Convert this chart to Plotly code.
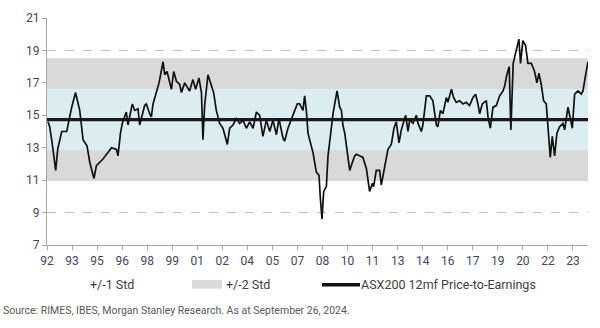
import plotly.graph_objects as go

# ---------------- data ----------------
years = [
    1992.06, 1992.16, 1992.28, 1992.52, 1992.64, 1992.88, 1993.18, 1993.48, 1993.71, 1993.96,
    1994.16, 1994.40, 1994.56, 1994.81, 1994.96, 1995.16, 1995.35, 1995.65, 1995.86, 1996.16,
    1996.25, 1996.40, 1996.51, 1996.75, 1996.85, 1997.11, 1997.25, 1997.45, 1997.55, 1997.85,
    1997.95, 1998.15, 1998.25, 1998.35, 1998.55, 1998.71, 1998.95, 1999.05, 1999.19, 1999.35,
    1999.45, 1999.59, 1999.75, 1999.95, 2000.05, 2000.25, 2000.44, 2000.54, 2000.74, 2000.90,
    2001.10, 2001.25, 2001.34, 2001.44, 2001.64, 2001.84, 2001.98, 2002.14, 2002.34, 2002.54,
    2002.80, 2002.94, 2003.14, 2003.34, 2003.54, 2003.74, 2003.94, 2004.14, 2004.34, 2004.54,
    2004.74, 2004.93, 2005.14, 2005.34, 2005.53, 2005.74, 2005.89, 2006.13, 2006.23, 2006.43,
    2006.73, 2006.99, 2007.13, 2007.33, 2007.43, 2007.53, 2007.63, 2007.83, 2007.93, 2008.13,
    2008.29, 2008.37, 2008.47, 2008.57, 2008.73, 2008.83, 2009.03, 2009.13, 2009.37, 2009.53,
    2009.63, 2009.72, 2009.83, 2010.02, 2010.13, 2010.29, 2010.43, 2010.53, 2010.72, 2010.92,
    2011.13, 2011.32, 2011.49, 2011.56, 2011.72, 2011.92, 2012.02, 2012.22, 2012.42, 2012.62,
    2012.78, 2012.92, 2013.08, 2013.22, 2013.48, 2013.62, 2013.72, 2013.92, 2014.12, 2014.22,
    2014.32, 2014.42, 2014.51, 2014.72, 2014.92, 2015.11, 2015.22, 2015.32, 2015.41, 2015.56,
    2015.71, 2015.92, 2016.01, 2016.22, 2016.35, 2016.51, 2016.71, 2016.91, 2017.11, 2017.31,
    2017.51, 2017.67, 2017.81, 2017.91, 2018.07, 2018.31, 2018.41, 2018.55, 2018.71, 2018.91,
    2019.11, 2019.31, 2019.41, 2019.54, 2019.68, 2019.78, 2019.92, 2020.11, 2020.26, 2020.36,
    2020.50, 2020.66, 2020.80, 2021.01, 2021.20, 2021.34, 2021.46, 2021.60, 2021.74, 2021.90,
    2022.00, 2022.14, 2022.26, 2022.40, 2022.54, 2022.70, 2022.90, 2023.00, 2023.20, 2023.34,
    2023.46, 2023.60, 2023.80, 2024.00, 2024.10, 2024.26, 2024.40,
]
pe = [
    14.6, 14.3, 13.5, 11.6, 12.9, 14.0, 14.0, 15.5, 16.4, 15.3,
    13.5, 13.1, 12.1, 11.1, 11.9, 12.1, 12.3, 12.7, 13.0, 12.9,
    12.5, 13.9, 14.5, 15.2, 14.4, 15.7, 15.3, 15.4, 14.4, 15.6,
    15.7, 15.1, 14.9, 15.7, 16.5, 17.0, 18.3, 17.5, 17.7, 17.0,
    16.6, 17.7, 17.1, 16.9, 16.4, 17.0, 16.7, 16.5, 17.2, 16.6,
    17.3, 16.4, 13.5, 15.6, 17.5, 16.9, 16.4, 15.3, 14.5, 14.2,
    13.2, 14.2, 14.4, 14.8, 14.5, 14.7, 14.2, 14.6, 14.2, 15.2,
    15.0, 13.7, 14.7, 14.0, 14.7, 13.8, 14.8, 13.6, 13.4, 14.2,
    15.0, 15.7, 15.7, 15.3, 16.2, 15.3, 13.9, 13.1, 12.7, 11.5,
    11.3, 9.9, 8.6, 10.3, 10.6, 12.5, 14.2, 15.1, 16.5, 15.5,
    15.3, 14.4, 13.9, 12.3, 11.6, 12.1, 12.5, 12.6, 12.5, 12.4,
    11.7, 10.3, 10.8, 10.6, 11.6, 11.6, 10.7, 11.9, 12.9, 13.2,
    14.2, 14.6, 13.3, 14.1, 15.0, 14.0, 14.7, 14.5, 15.0, 14.5,
    14.2, 14.0, 14.4, 16.2, 16.2, 15.9, 15.1, 14.4, 14.3, 15.3,
    15.1, 16.1, 15.8, 16.6, 16.1, 15.8, 15.9, 15.7, 15.8, 15.6,
    16.1, 16.3, 15.7, 15.1, 15.7, 15.9, 14.9, 14.2, 15.5, 15.6,
    16.2, 16.5, 16.8, 17.5, 18.0, 14.1, 18.2, 19.1, 19.7, 18.2,
    19.6, 19.3, 18.2, 18.2, 17.7, 17.0, 17.6, 16.9, 15.9, 15.7,
    14.5, 12.4, 13.7, 12.5, 13.9, 14.3, 14.5, 14.1, 15.5, 14.9,
    14.2, 16.3, 16.5, 16.3, 16.5, 17.5, 18.3,
]
pe_mean = 14.73
pe_std = 1.89

x_tick_labels = ['92', '93', '95', '96', '98', '99', '01', '02', '04', '05', '07',
                 '08', '10', '11', '13', '14', '16', '17', '19', '20', '22', '23']
y_tick_values = [7, 9, 11, 13, 15, 17, 19, 21]

legend_labels = ['+/-1 Std', '+/-2 Std', 'ASX200 12mf Price-to-Earnings']
source_text = 'Source: RIMES, IBES, Morgan Stanley Research. As at September 26, 2024.'

# ---------------- styling ----------------
FONT = 'Roboto'
TICK_COLOR = '#46455e'
GRAY_BAND = '#d9d9d9'
BLUE_BAND = '#dcedf2'
AXIS_COLOR = '#a6a6a6'

W, H = 600, 328
ML, MR, MT, MB = 47, 12, 11, 83
PW, PH = W - ML - MR, H - MT - MB


def px_x(p):
    return (p - ML) / PW


def px_y(p):
    return (H - MB - p) / PH


x_start = 1992.0
x_end = years[-1]
tick_vals = [x_start + 1.5 * i for i in range(len(x_tick_labels))]

fig = go.Figure()

# +/-2 std band
fig.add_trace(go.Scatter(
    x=[x_start, x_end, x_end, x_start, x_start],
    y=[pe_mean - 2 * pe_std, pe_mean - 2 * pe_std, pe_mean + 2 * pe_std,
       pe_mean + 2 * pe_std, pe_mean - 2 * pe_std],
    fill='toself', fillcolor=GRAY_BAND, mode='none',
    showlegend=False, hoverinfo='skip'))
# +/-1 std band
fig.add_trace(go.Scatter(
    x=[x_start, x_end, x_end, x_start, x_start],
    y=[pe_mean - pe_std, pe_mean - pe_std, pe_mean + pe_std,
       pe_mean + pe_std, pe_mean - pe_std],
    fill='toself', fillcolor=BLUE_BAND, mode='none',
    showlegend=False, hoverinfo='skip'))
# mean line
fig.add_trace(go.Scatter(
    x=[x_start, x_end], y=[pe_mean, pe_mean], mode='lines',
    line=dict(color='#1a1a1a', width=3.2), showlegend=False, hoverinfo='skip'))
# PE line
fig.add_trace(go.Scatter(
    x=years, y=pe, mode='lines',
    line=dict(color='#111111', width=1.7), showlegend=False))

fig.update_xaxes(
    range=[x_start, x_end], tickvals=tick_vals, ticktext=x_tick_labels,
    showgrid=False, zeroline=False, showline=True, linecolor=AXIS_COLOR, linewidth=1.2,
    ticks='outside', ticklen=4, tickcolor=AXIS_COLOR, tickwidth=1,
    tickfont=dict(family=FONT, size=12, color=TICK_COLOR))
fig.update_yaxes(
    range=[7, 21], tickvals=y_tick_values,
    showgrid=True, gridcolor='#bfbfbf', griddash='dash', gridwidth=1,
    zeroline=False, showline=True, linecolor=AXIS_COLOR, linewidth=1.2,
    ticks='outside', ticklen=4, tickcolor=AXIS_COLOR,
    tickfont=dict(family=FONT, size=12, color=TICK_COLOR))

# manual legend
leg_y = 286
fig.add_annotation(text=legend_labels[0], xref='paper', yref='paper',
                   x=px_x(88), y=px_y(leg_y), xanchor='left', yanchor='middle',
                   showarrow=False, font=dict(family=FONT, size=12.5, color='#404040'))
fig.add_shape(type='rect', xref='paper', yref='paper',
              x0=px_x(192), x1=px_x(222), y0=px_y(290), y1=px_y(281),
              fillcolor=GRAY_BAND, line_width=0)
fig.add_annotation(text=legend_labels[1], xref='paper', yref='paper',
                   x=px_x(224), y=px_y(leg_y), xanchor='left', yanchor='middle',
                   showarrow=False, font=dict(family=FONT, size=12.5, color='#404040'))
fig.add_shape(type='line', xref='paper', yref='paper',
              x0=px_x(322), x1=px_x(360), y0=px_y(leg_y), y1=px_y(leg_y),
              line=dict(color='#111111', width=3.5))
fig.add_annotation(text=legend_labels[2], xref='paper', yref='paper',
                   x=px_x(359), y=px_y(leg_y), xanchor='left', yanchor='middle',
                   showarrow=False, font=dict(family=FONT, size=12.5, color='#404040'))
fig.add_annotation(text=source_text, xref='paper', yref='paper',
                   x=px_x(1), y=px_y(313), xanchor='left', yanchor='middle',
                   showarrow=False, font=dict(family=FONT, size=10.5, color='#595959'))

fig.update_layout(
    width=W, height=H, margin=dict(l=ML, r=MR, t=MT, b=MB),
    paper_bgcolor='white', plot_bgcolor='white', showlegend=False)

fig.write_html('out.html')
